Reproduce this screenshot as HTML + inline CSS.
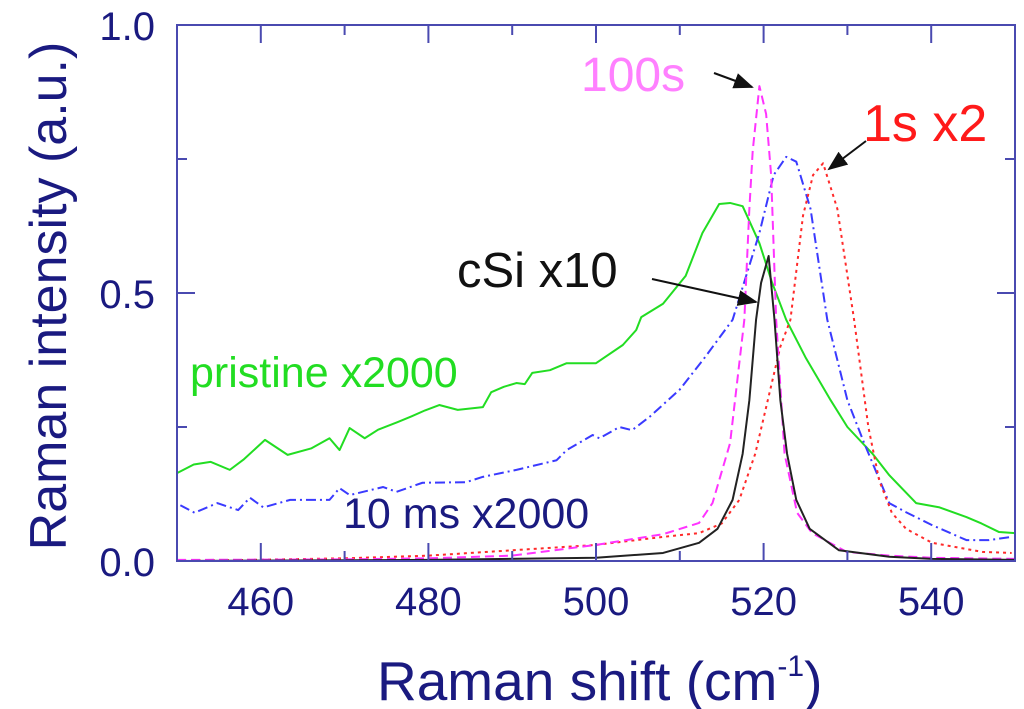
<!DOCTYPE html>
<html><head><meta charset="utf-8"><style>body{margin:0;background:#fff}svg{display:block;font-family:"Liberation Sans",sans-serif}</style></head>
<body>
<svg id="chart" width="1024" height="709" xmlns="http://www.w3.org/2000/svg">
<defs><marker id="ah" markerWidth="10" markerHeight="8" refX="9" refY="4" orient="auto"><path d="M0,0 L10,4 L0,8 Z" fill="#111"/></marker></defs>
<g id="marks"></g>
<rect x="177" y="25" width="838" height="536" fill="none" stroke="#4a4ab0" stroke-width="2"/>
<g id="ticks"></g>
<text transform="translate(66,296) rotate(-90)" text-anchor="middle" font-size="52" fill="#1a1a80">Raman intensity (a.u.)</text>
<text x="377" y="700" font-size="55" fill="#1a1a80">Raman shift (cm<tspan font-size="30" dy="-24">-1</tspan><tspan dy="24">)</tspan></text>
<text x="581" y="91" font-size="48" fill="#ff80ff">100s</text>
<line x1="714" y1="73" x2="752" y2="87" stroke="#111" stroke-width="2" marker-end="url(#ah)"/>
<text x="863" y="141" font-size="52" fill="#ff1a1a">1s x2</text>
<line x1="866" y1="141" x2="829" y2="169" stroke="#111" stroke-width="2" marker-end="url(#ah)"/>
<text x="457" y="287" font-size="49" fill="#111">cSi x10</text>
<line x1="652" y1="279" x2="756" y2="302" stroke="#111" stroke-width="2" marker-end="url(#ah)"/>
<text x="190" y="387" font-size="43" fill="#22dd22">pristine x2000</text>
<text x="343" y="528" font-size="43" fill="#1a1a80">10 ms x2000</text>
</svg>
<script>
const xTicks=[460,480,500,520,540];
const yTicks=[0.0,0.5,1.0];
const yTickLabels=["0.0","0.5","1.0"];
const pristineX=[450,452,454,456.3,458,460.5,463.2,466,468.2,469.4,470.6,472.4,474,476.3,478,479.6,481.3,483.5,486.5,487.5,489,490.5,491.5,492.4,494.5,496.5,500,503.2,504.8,505.4,508,510.7,512.7,514.7,516,517.5,519.5,521,522.7,525,528,530,533,535,538.2,541,544.2,546,548.1,550];
const pristineY=[0.164,0.18,0.185,0.17,0.19,0.226,0.198,0.21,0.229,0.207,0.248,0.229,0.245,0.259,0.27,0.281,0.291,0.282,0.287,0.315,0.325,0.332,0.33,0.351,0.356,0.369,0.369,0.403,0.431,0.455,0.48,0.532,0.612,0.666,0.668,0.662,0.593,0.52,0.45,0.38,0.30,0.25,0.2,0.16,0.108,0.1,0.082,0.07,0.054,0.052];
const msX=[450.4,452.1,454.8,457.3,458.7,460.3,463.5,468.2,469.4,470.6,474.6,476.2,479.3,484.5,486.5,490.5,495.3,496.5,499.6,500.4,502.8,504.3,506.4,510,513,516.3,519.5,521.2,522.7,523.9,525.6,527.6,530,532,535,537,540.1,544.2,546.9,549.6];
const msY=[0.104,0.09,0.108,0.095,0.118,0.1,0.114,0.114,0.136,0.123,0.138,0.129,0.146,0.147,0.157,0.17,0.188,0.207,0.235,0.229,0.25,0.244,0.269,0.32,0.38,0.45,0.612,0.72,0.754,0.745,0.657,0.45,0.3,0.22,0.108,0.091,0.067,0.039,0.039,0.045];
const s100X=[450,470,480,490,500,508,512.3,513.9,516,517.7,518.3,518.7,519.5,520.3,520.9,521.5,522.5,524,525.8,529.9,535,540.1,550];
const s100Y=[0.002,0.003,0.005,0.01,0.03,0.05,0.071,0.108,0.22,0.45,0.657,0.765,0.886,0.834,0.72,0.45,0.2,0.09,0.052,0.017,0.01,0.006,0.004];
const s1X=[450,470,480,490,500,508,512.3,515,517.1,519,520.5,522,523.2,524.7,525.9,527.1,528.8,530.8,532.5,533.8,535.3,537,540.1,546.1,549.6];
const s1Y=[0.0,0.005,0.01,0.02,0.03,0.045,0.052,0.07,0.114,0.2,0.3,0.4,0.45,0.644,0.72,0.742,0.657,0.45,0.25,0.15,0.09,0.06,0.034,0.017,0.015];
const csiX=[450,480,500,508,512.3,514.5,516.3,517.5,518.3,519.1,519.7,520.6,521.3,522,522.8,523.9,525.5,529,535,540.1,550];
const csiY=[0.0,0.002,0.006,0.015,0.034,0.06,0.114,0.2,0.3,0.45,0.519,0.569,0.45,0.3,0.2,0.114,0.06,0.02,0.008,0.004,0.002];
const X=v=>177+(v-450)*8.38, Y=v=>561-v*536;
const NS="http://www.w3.org/2000/svg";
const marks=document.getElementById('marks'), ticks=document.getElementById('ticks');
function line(xs,ys,color,dash,name){
  const p=document.createElementNS(NS,'polyline');
  p.setAttribute('points',xs.map((x,i)=>X(x)+','+Y(ys[i])).join(' '));
  p.setAttribute('fill','none');p.setAttribute('stroke',color);p.setAttribute('stroke-width','2');p.setAttribute('stroke-linejoin','round');
  if(dash)p.setAttribute('stroke-dasharray',dash);
  
  
  marks.appendChild(p);
}
line(pristineX,pristineY,'#22dd22',null,'series-pristine');
line(msX,msY,'#3a3aff','10 4 2 4','series-10ms');
line(s1X,s1Y,'#ff2a2a','3 4','series-1s');
line(s100X,s100Y,'#ff33ff','9 5','series-100s');
line(csiX,csiY,'#222','', 'series-csi');
function tk(x1,y1,x2,y2){const l=document.createElementNS(NS,'line');l.setAttribute('x1',x1);l.setAttribute('y1',y1);l.setAttribute('x2',x2);l.setAttribute('y2',y2);l.setAttribute('stroke','#4a4ab0');l.setAttribute('stroke-width','2');


ticks.appendChild(l);}
function txt(x,y,s,anchor,name){const t=document.createElementNS(NS,'text');t.setAttribute('x',x);t.setAttribute('y',y);t.setAttribute('text-anchor',anchor);t.setAttribute('font-size','40');t.setAttribute('fill','#1a1a80');t.textContent=s;


ticks.appendChild(t);}
for(let v=450;v<=550;v+=10){const major=xTicks.includes(v);const L=major?18:10;tk(X(v),561,X(v),561-L);tk(X(v),25,X(v),25+L);}
xTicks.forEach(v=>txt(X(v),615,String(v),'middle','x-tick-label'));
for(let v=0;v<=1.0001;v+=0.25){const major=Math.abs(v*2-Math.round(v*2))<1e-6;const L=major?18:10;tk(177,Y(v),177+L,Y(v));tk(1015,Y(v),1015-L,Y(v));}
yTicks.forEach((v,i)=>txt(155,Y(v)+15,yTickLabels[i],'end','y-tick-label'));
</script>
</body></html>
